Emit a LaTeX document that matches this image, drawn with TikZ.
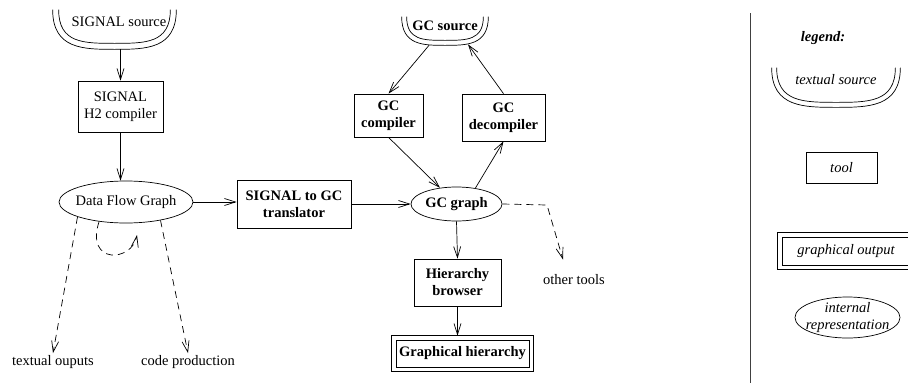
\documentclass[tikz,border=0pt]{standalone}
\usepackage{fontspec}
\setmainfont{Liberation Serif}
\usetikzlibrary{arrows.meta,shapes.geometric,calc}
\newcommand\myfs{\fontsize{14.5}{17}\selectfont}
\newcommand\ushape[2]{%
  \draw (#1.north west) .. controls (#1.south west) and ($(#1.south west)!0.5!(#1.south)$) .. (#1.south)
        .. controls ($(#1.south east)!0.5!(#1.south)$) and (#1.south east) .. (#1.north east);
  \draw ($(#1.north west)+(#2,0)$) .. controls ($(#1.south west)+(#2,-#2)$) and ($(#1.south west)!0.5!(#1.south)+(0,-#2)$) .. ($(#1.south)+(0,-#2)$)
        .. controls ($(#1.south east)!0.5!(#1.south)+(0,-#2)$) and ($(#1.south east)+(-#2,-#2)$) .. ($(#1.north east)+(-#2,0)$);
}
\newcommand\outerframe[1]{%
  \draw ($(#1.north west)+(-4,-4)$) rectangle ($(#1.south east)+(4,4)$);
}
\begin{document}
\begin{tikzpicture}[x=1pt,y=-1pt, line width=0.7pt,
  >={Straight Barb[length=11pt,width=7pt]},
  tool/.style={draw, rectangle, inner sep=0pt, align=center, font=\myfs},
  irep/.style={draw, ellipse, inner xsep=-6pt, inner ysep=-2pt, align=center, font=\myfs},
  gout/.style={draw, rectangle, inner sep=0pt, align=center, font=\myfs},
  usrc/.style={inner sep=0pt, align=center, font=\myfs},
  lbl/.style={inner sep=2pt, font=\myfs},
  dsh/.style={dash pattern=on 7pt off 5pt},
]
\useasboundingbox (0,0) rectangle (908,383);

% sources
\node[usrc, minimum width=123pt, text height=16pt, text depth=23pt] (ss) at (114.5,29.5) {\hspace*{9pt}SIGNAL source};
\ushape{ss}{6}
\node[usrc, minimum width=86pt, text height=13pt, text depth=15pt, font=\myfs\bfseries] (gcs) at (445,31) {GC source};
\ushape{gcs}{5}

% tools
\node[tool, minimum width=85pt, minimum height=51pt] (h2) at (120.5,106.5) {SIGNAL\\H2 compiler};
\node[irep, minimum width=134pt, minimum height=42pt] (dfg) at (126,202) {Data Flow Graph};
\node[tool, minimum width=114pt, minimum height=48pt, font=\myfs\bfseries] (tr) at (294,204) {SIGNAL to GC\\translator};
\node[irep, minimum width=91pt, minimum height=34pt, font=\myfs\bfseries] (gcg) at (456.5,204) {GC graph};
\node[tool, minimum width=69pt, minimum height=43pt, font=\myfs\bfseries] (gcc) at (388.5,115.5) {GC\\compiler};
\node[tool, minimum width=83pt, minimum height=47pt, font=\myfs\bfseries] (gcd) at (503.5,117.5) {GC\\decompiler};
\node[tool, minimum width=87pt, minimum height=47pt, font=\myfs\bfseries] (hb) at (457.5,282.5) {Hierarchy\\browser};
\node[gout, minimum width=133pt, minimum height=27pt, font=\myfs\bfseries] (gh) at (462.5,353.5) {Graphical hierarchy};
\outerframe{gh}

% labels
\node[lbl] (tout) at (53,362) {textual ouputs};
\node[lbl] (cp) at (188,362) {code production};
\node[lbl] (ot) at (574,280) {other tools};
\coordinate (lpe) at (137,235);
\coordinate (otc) at (547,205);

% connectors
\draw[->] (h2.north |- ss.south) -- (h2.north);
\draw[->] (h2.south) -- (h2.south |- dfg.north);
\draw[->] (dfg.east) -- (dfg.east -| tr.west);
\draw[->] (tr.east) -- (gcg.west);
\draw[->] ($(gcs.south)+(-16,0)$) -- (gcc.north);
\draw[->] (gcc.south) -- (gcg);
\draw[->] (gcg.40) -- (gcd.south);
\draw[->] (gcd.north) -- ($(gcs.south)+(23,-1)$);
\draw[->] (gcg.south) -- (hb.north);
\draw[->, shorten >=4pt] (hb.south) -- (hb.south |- gh.north);
\draw[->, dsh] (dfg.197) -- (tout.north);
\draw[->, dsh] (dfg.332) -- (cp.north);
\draw[->, dsh] (dfg.216) .. controls (85,265) and (132,262) .. (lpe);
\draw[->, dsh] (gcg.east) -- (otc) -- ([xshift=-11pt,yshift=13pt]ot.north);

% legend
\draw[black!75] (750,13) -- (750,383);
\node[lbl, font=\myfs\bfseries\itshape] (leg) at (823,38) {legend:};
\node[usrc, minimum width=128pt, text height=16pt, text depth=23pt, font=\myfs\itshape] (lts) at (836,87.5) {textual source};
\ushape{lts}{5}
\node[tool, minimum width=71pt, minimum height=31pt, font=\myfs\itshape] (ltool) at (841.5,167.5) {tool};
\node[gout, minimum width=128pt, minimum height=28pt, font=\myfs\itshape] (lgo) at (846,251) {graphical output};
\outerframe{lgo}
\node[irep, minimum width=105pt, minimum height=41pt, font=\myfs\itshape] (lir) at (847.5,317.5) {internal\\representation};
\end{tikzpicture}
\end{document}
